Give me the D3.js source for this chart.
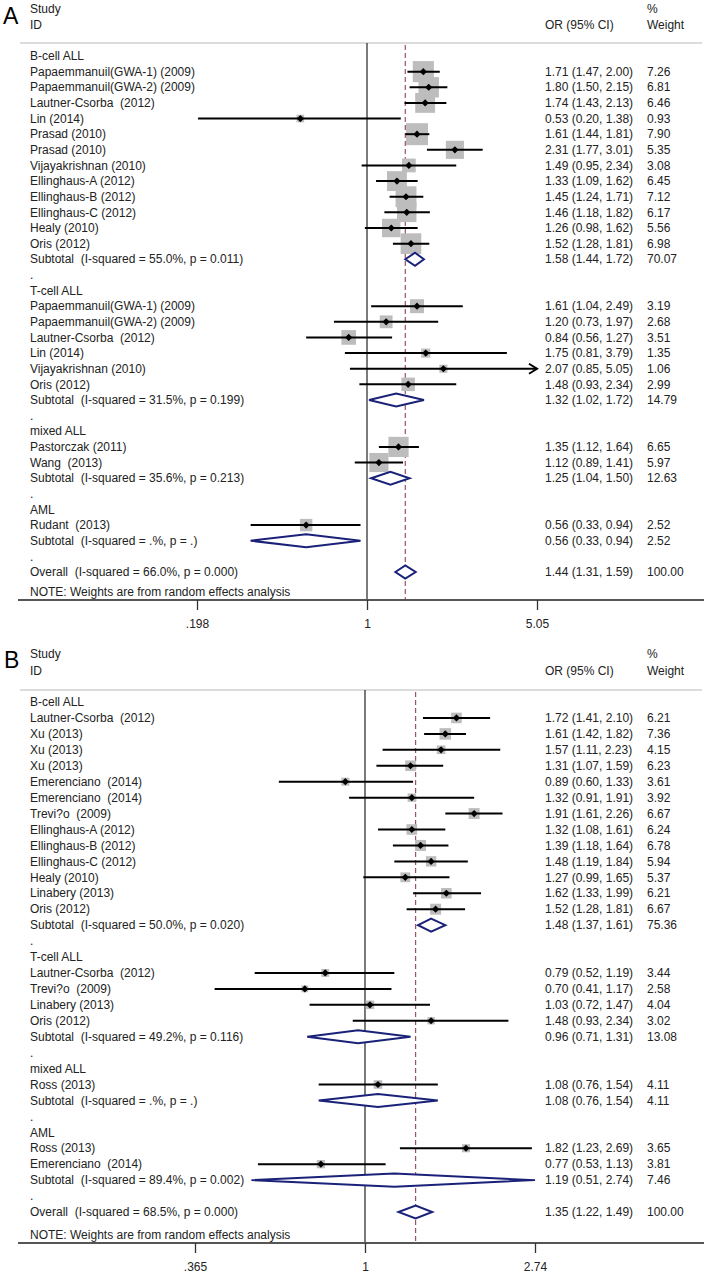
<!DOCTYPE html>
<html><head><meta charset="utf-8">
<script src="https://cdnjs.cloudflare.com/ajax/libs/d3/7.8.5/d3.min.js"></script>
<style>
body{margin:0;background:#fff}
svg{display:block}
text{font-family:Arial,"Liberation Sans",sans-serif;white-space:pre;fill:#222}
</style>
</head><body>
<svg id="c" width="707" height="1274"></svg>
<script>
// ---------- Panel A data ----------
const kindA = ["h","s","s","s","s","s","s","s","s","s","s","s","s","t","d",
               "h","s","s","s","s","s","s","t","d",
               "h","s","s","t","d",
               "h","s","t","d","o"];
const labelsA = ["B-cell ALL","Papaemmanuil(GWA-1) (2009)","Papaemmanuil(GWA-2) (2009)","Lautner-Csorba  (2012)","Lin (2014)","Prasad (2010)","Prasad (2010)","Vijayakrishnan (2010)","Ellinghaus-A (2012)","Ellinghaus-B (2012)","Ellinghaus-C (2012)","Healy (2010)","Oris (2012)","Subtotal  (I-squared = 55.0%, p = 0.011)",".",
  "T-cell ALL","Papaemmanuil(GWA-1) (2009)","Papaemmanuil(GWA-2) (2009)","Lautner-Csorba  (2012)","Lin (2014)","Vijayakrishnan (2010)","Oris (2012)","Subtotal  (I-squared = 31.5%, p = 0.199)",".",
  "mixed ALL","Pastorczak (2011)","Wang  (2013)","Subtotal  (I-squared = 35.6%, p = 0.213)",".",
  "AML","Rudant  (2013)","Subtotal  (I-squared = .%, p = .)",".","Overall  (I-squared = 66.0%, p = 0.000)"];
const orA = [null,1.71,1.80,1.74,0.53,1.61,2.31,1.49,1.33,1.45,1.46,1.26,1.52,1.58,null,
  null,1.61,1.20,0.84,1.75,2.07,1.48,1.32,null,
  null,1.35,1.12,1.25,null,
  null,0.56,0.56,null,1.44];
const loA = [null,1.47,1.50,1.43,0.20,1.44,1.77,0.95,1.09,1.24,1.18,0.98,1.28,1.44,null,
  null,1.04,0.73,0.56,0.81,0.85,0.93,1.02,null,
  null,1.12,0.89,1.04,null,
  null,0.33,0.33,null,1.31];
const hiA = [null,2.00,2.15,2.13,1.38,1.81,3.01,2.34,1.62,1.71,1.82,1.62,1.81,1.72,null,
  null,2.49,1.97,1.27,3.79,5.05,2.34,1.72,null,
  null,1.64,1.41,1.50,null,
  null,0.94,0.94,null,1.59];
const weightA = [null,7.26,6.81,6.46,0.93,7.90,5.35,3.08,6.45,7.12,6.17,5.56,6.98,70.07,null,
  null,3.19,2.68,3.51,1.35,1.06,2.99,14.79,null,
  null,6.65,5.97,12.63,null,
  null,2.52,2.52,null,100.00];
const ticksA = [0.198, 1, 5.05];
const tickLabelsA = [".198","1","5.05"];

// ---------- Panel B data ----------
const kindB = ["h","s","s","s","s","s","s","s","s","s","s","s","s","s","t","d",
               "h","s","s","s","s","t","d",
               "h","s","t","d",
               "h","s","s","t","d","o"];
const labelsB = ["B-cell ALL","Lautner-Csorba  (2012)","Xu (2013)","Xu (2013)","Xu (2013)","Emerenciano  (2014)","Emerenciano  (2014)","Trevi?o  (2009)","Ellinghaus-A (2012)","Ellinghaus-B (2012)","Ellinghaus-C (2012)","Healy (2010)","Linabery (2013)","Oris (2012)","Subtotal  (I-squared = 50.0%, p = 0.020)",".",
  "T-cell ALL","Lautner-Csorba  (2012)","Trevi?o  (2009)","Linabery (2013)","Oris (2012)","Subtotal  (I-squared = 49.2%, p = 0.116)",".",
  "mixed ALL","Ross (2013)","Subtotal  (I-squared = .%, p = .)",".",
  "AML","Ross (2013)","Emerenciano  (2014)","Subtotal  (I-squared = 89.4%, p = 0.002)",".","Overall  (I-squared = 68.5%, p = 0.000)"];
const orB = [null,1.72,1.61,1.57,1.31,0.89,1.32,1.91,1.32,1.39,1.48,1.27,1.62,1.52,1.48,null,
  null,0.79,0.70,1.03,1.48,0.96,null,
  null,1.08,1.08,null,
  null,1.82,0.77,1.19,null,1.35];
const loB = [null,1.41,1.42,1.11,1.07,0.60,0.91,1.61,1.08,1.18,1.19,0.99,1.33,1.28,1.37,null,
  null,0.52,0.41,0.72,0.93,0.71,null,
  null,0.76,0.76,null,
  null,1.23,0.53,0.51,null,1.22];
const hiB = [null,2.10,1.82,2.23,1.59,1.33,1.91,2.26,1.61,1.64,1.84,1.65,1.99,1.81,1.61,null,
  null,1.19,1.17,1.47,2.34,1.31,null,
  null,1.54,1.54,null,
  null,2.69,1.13,2.74,null,1.49];
const weightB = [null,6.21,7.36,4.15,6.23,3.61,3.92,6.67,6.24,6.78,5.94,5.37,6.21,6.67,75.36,null,
  null,3.44,2.58,4.04,3.02,13.08,null,
  null,4.11,4.11,null,
  null,3.65,3.81,7.46,null,100.00];
const ticksB = [0.365, 1, 2.74];
const tickLabelsB = [".365","1","2.74"];

const svg = d3.select("#c");
svg.append("rect").attr("width",707).attr("height",1274).attr("fill","#fff");

const NAVY = "#1a2178";
const BOX = "#bdbdbd";
const DASH = "#a0525e";

function panel(cfg){
  const g = svg.append("g");
  const n = cfg.kind.length;
  const x = d3.scaleLog().domain([cfg.ticks[0], cfg.ticks[cfg.ticks.length-1]]).range([cfg.x0, cfg.x1]);
  const y = d3.scaleLinear().domain([0, n-1]).range([cfg.firstY, cfg.lastY]);
  const maxW = d3.max(cfg.kind.map((k,i)=>k==="s"?cfg.w[i]:0));
  const side = d3.scaleSqrt().domain([0, maxW]).range([0, cfg.maxSide]);

  // panel letter
  g.append("text").attr("x", cfg.letterX).attr("y", cfg.letterY)
    .style("font-size","23px").style("fill","#000").text(cfg.letter);

  // header
  const hd = [ ["Study",30,cfg.hy1,"start"],["ID",30,cfg.hy2,"start"],
               ["OR (95% CI)",545,cfg.hy2,"start"],["%",647,cfg.hy1,"start"],["Weight",647,cfg.hy2,"start"] ];
  hd.forEach(h=>g.append("text").attr("x",h[1]).attr("y",h[2]).attr("dy","0.35em")
      .style("font-size","12px").text(h[0]));
  g.append("line").attr("x1",20).attr("x2",702).attr("y1",cfg.lineY).attr("y2",cfg.lineY)
    .attr("stroke","#d0d0d0").attr("stroke-width",1.5);

  // reference lines
  g.append("line").attr("x1",x(1)).attr("x2",x(1)).attr("y1",cfg.lineY).attr("y2",cfg.axisY)
    .attr("stroke","#333").attr("stroke-width",1.3);
  const ovIdx = cfg.kind.indexOf("o");
  g.append("line").attr("x1",x(cfg.or[ovIdx])).attr("x2",x(cfg.or[ovIdx]))
    .attr("y1",cfg.lineY+2).attr("y2",cfg.axisY)
    .attr("stroke",DASH).attr("stroke-width",1.2).attr("stroke-dasharray","5,3");

  // rows
  cfg.kind.forEach((k,i)=>{
    const yy = y(i);
    g.append("text").attr("x",30).attr("y",yy).attr("dy","0.35em")
      .style("font-size","12px").text(cfg.labels[i]);
    if (cfg.or[i]==null) return;
    const o=cfg.or[i], lo=cfg.lo[i], hi=cfg.hi[i], w=cfg.w[i];
    g.append("text").attr("x",545).attr("y",yy).attr("dy","0.35em").style("font-size","12px")
      .text(`${o.toFixed(2)} (${lo.toFixed(2)}, ${hi.toFixed(2)})`);
    g.append("text").attr("x",647).attr("y",yy).attr("dy","0.35em").style("font-size","12px")
      .text(w.toFixed(2));
    if (k==="s"){
      const s = side(w);
      g.append("rect").attr("x",x(o)-s/2).attr("y",yy-s/2).attr("width",s).attr("height",s)
        .attr("fill",BOX);
      const dmax = x.domain()[1], dmin = x.domain()[0];
      const xl = x(Math.max(lo,dmin)), xr = x(Math.min(hi,dmax));
      g.append("line").attr("x1",xl).attr("x2",xr).attr("y1",yy).attr("y2",yy)
        .attr("stroke","#000").attr("stroke-width",2);
      if (hi >= dmax*0.999){
        g.append("path").attr("d",`M${xr-8},${yy-5}L${xr},${yy}L${xr-8},${yy+5}`)
          .attr("fill","none").attr("stroke","#000").attr("stroke-width",2);
      }
      if (lo <= dmin*1.001){
        g.append("path").attr("d",`M${xl+8},${yy-5}L${xl},${yy}L${xl+8},${yy+5}`)
          .attr("fill","none").attr("stroke","#000").attr("stroke-width",2);
      }
      const d=3.6;
      g.append("path").attr("d",`M${x(o)-d},${yy}L${x(o)},${yy-d}L${x(o)+d},${yy}L${x(o)},${yy+d}Z`)
        .attr("fill","#000");
    } else {
      const h=6.5;
      g.append("path").attr("d",`M${x(lo)},${yy}L${x(o)},${yy-h}L${x(hi)},${yy}L${x(o)},${yy+h}Z`)
        .attr("fill","#fff").attr("stroke",NAVY).attr("stroke-width",2);
    }
  });

  // note
  g.append("text").attr("x",30).attr("y",cfg.noteY).attr("dy","0.35em").style("font-size","12px")
    .text("NOTE: Weights are from random effects analysis");

  // axis
  g.append("line").attr("x1",18).attr("x2",704).attr("y1",cfg.axisY).attr("y2",cfg.axisY)
    .attr("stroke","#555").attr("stroke-width",2);
  const ax = d3.axisBottom(x).tickValues(cfg.ticks)
    .tickFormat((d,i)=>cfg.tickLabels[i]).tickSize(10).tickPadding(9);
  const axg = g.append("g").attr("transform",`translate(0,${cfg.axisY})`).call(ax);
  axg.select(".domain").remove();
  axg.selectAll(".tick line").attr("stroke","#333").attr("stroke-width",1.3);
  axg.selectAll(".tick text").style("font-size","12px").style("font-family","Arial,'Liberation Sans',sans-serif").attr("fill","#222");
}

panel({letter:"A", letterX:3, letterY:24, hy1:9, hy2:25, lineY:43,
  firstY:56, lastY:572, noteY:592, axisY:600,
  x0:197, x1:537, maxSide:22,
  kind:kindA, labels:labelsA, or:orA, lo:loA, hi:hiA, w:weightA,
  ticks:ticksA, tickLabels:tickLabelsA});

panel({letter:"B", letterX:4, letterY:668, hy1:654, hy2:671, lineY:690,
  firstY:702, lastY:1212, noteY:1235, axisY:1243,
  x0:195, x1:535, maxSide:11.5,
  kind:kindB, labels:labelsB, or:orB, lo:loB, hi:hiB, w:weightB,
  ticks:ticksB, tickLabels:tickLabelsB});
</script>
</body></html>
